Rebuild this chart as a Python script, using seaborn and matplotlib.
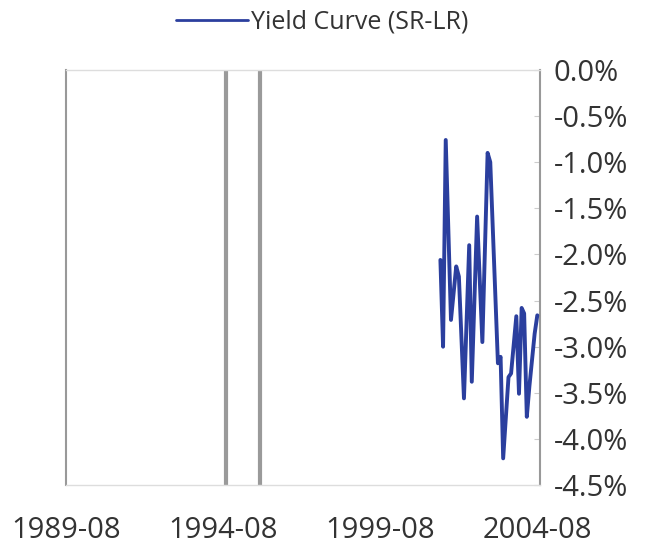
import pandas as pd
import matplotlib.pyplot as plt
import matplotlib.dates as mdates
from matplotlib.ticker import FuncFormatter
import seaborn as sns

# yield curve spread (short rate - long rate), %
dates = ['2001-07', '2001-08', '2001-09', '2001-11', '2002-01', '2002-02',
         '2002-04', '2002-06', '2002-07', '2002-09', '2002-11', '2003-01',
         '2003-02', '2003-05', '2003-06', '2003-07', '2003-09', '2003-10',
         '2003-12', '2004-01', '2004-02', '2004-03', '2004-04', '2004-05',
         '2004-07', '2004-08']
spread = [-2.06, -3.00, -0.76, -2.71, -2.13, -2.24,
          -3.56, -1.90, -3.38, -1.59, -2.95, -0.90,
          -1.00, -3.18, -3.11, -4.21, -3.33, -3.29,
          -2.67, -3.51, -2.58, -2.64, -3.76, -3.43,
          -2.86, -2.66]
marker_dates = ['1994-09', '1995-10']
tick_dates = ['1989-08', '1994-08', '1999-08', '2004-08']
y_ticks = [0.0, -0.5, -1.0, -1.5, -2.0, -2.5, -3.0, -3.5, -4.0, -4.5]

sns.set_style("white")
plt.rcParams['font.family'] = ['Open Sans', 'DejaVu Sans']

df = pd.DataFrame({'Date': pd.to_datetime(dates), 'Spread': spread})

fig = plt.figure(figsize=(6.49, 5.5), dpi=100)
ax = fig.add_axes([0.102, 0.118, 0.730, 0.755])

for d in marker_dates:
    ax.axvline(pd.to_datetime(d), color='#9a9a9a', lw=3, zorder=1)

sns.lineplot(data=df, x='Date', y='Spread', color='#2b3f9e', lw=2.8,
             label='Yield Curve (SR-LR)', ax=ax, zorder=3,
             solid_joinstyle='round', solid_capstyle='round')

ax.set_xlim(pd.to_datetime('1989-08'), pd.to_datetime('2004-09'))
ax.set_ylim(-4.5, 0.0)
ax.set_xticks(pd.to_datetime(tick_dates))
ax.xaxis.set_major_formatter(mdates.DateFormatter('%Y-%m'))
ax.set_yticks(y_ticks)
ax.yaxis.set_major_formatter(FuncFormatter(lambda v, p: f'{v:.1f}%'))
ax.yaxis.tick_right()
ax.set_xlabel('')
ax.set_ylabel('')
ax.tick_params(axis='y', direction='in', length=4, color='#cccccc',
               labelsize=21, labelcolor='#333333', pad=10)
ax.tick_params(axis='x', length=0, labelsize=21, labelcolor='#333333', pad=22)

for side in ['left', 'right']:
    ax.spines[side].set_color('#999999')
    ax.spines[side].set_linewidth(1.5)
for side in ['top', 'bottom']:
    ax.spines[side].set_color('#dddddd')
    ax.spines[side].set_linewidth(1.0)

leg = ax.legend(loc='center', bbox_to_anchor=(0.54, 1.115), frameon=False,
                fontsize=18, handlelength=2.9, handletextpad=0.1)
for t in leg.get_texts():
    t.set_color('#333333')
leg.get_lines()[0].set_linewidth(2)

fig.savefig('out.png', dpi=100)
